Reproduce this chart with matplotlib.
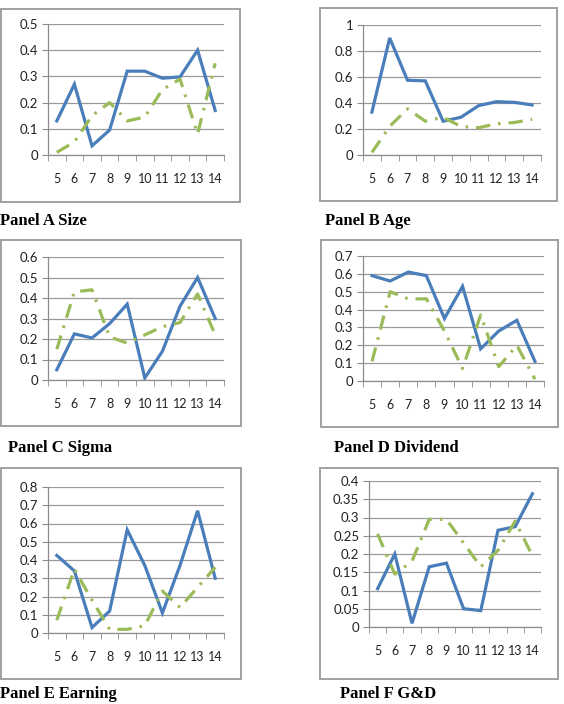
import matplotlib
matplotlib.use('Agg')
import matplotlib.pyplot as plt
from matplotlib.patches import Rectangle
import numpy as np

years = [5, 6, 7, 8, 9, 10, 11, 12, 13, 14]

size_blue = [0.13, 0.27, 0.035, 0.095, 0.32, 0.32, 0.293, 0.298, 0.40, 0.17]
size_green = [0.01, 0.05, 0.15, 0.20, 0.13, 0.145, 0.25, 0.29, 0.08, 0.35]

age_blue = [0.33, 0.90, 0.575, 0.57, 0.26, 0.29, 0.38, 0.41, 0.405, 0.385]
age_green = [0.02, 0.22, 0.355, 0.26, 0.29, 0.22, 0.21, 0.24, 0.25, 0.275]

sigma_blue = [0.05, 0.225, 0.205, 0.275, 0.37, 0.01, 0.14, 0.36, 0.50, 0.30]
sigma_green = [0.15, 0.43, 0.44, 0.21, 0.18, 0.22, 0.26, 0.28, 0.42, 0.22]

div_blue = [0.59, 0.56, 0.61, 0.59, 0.35, 0.53, 0.18, 0.28, 0.34, 0.11]
div_green = [0.11, 0.50, 0.46, 0.46, 0.28, 0.07, 0.37, 0.08, 0.20, 0.01]

earn_blue = [0.425, 0.34, 0.03, 0.12, 0.565, 0.37, 0.11, 0.37, 0.67, 0.30]
earn_green = [0.07, 0.35, 0.18, 0.02, 0.02, 0.04, 0.23, 0.14, 0.25, 0.36]

gd_blue = [0.105, 0.20, 0.01, 0.165, 0.175, 0.05, 0.045, 0.265, 0.275, 0.365]
gd_green = [0.255, 0.145, 0.18, 0.295, 0.295, 0.23, 0.165, 0.21, 0.29, 0.195]

W, H = 564, 704
fig = plt.figure(figsize=(W / 100, H / 100), dpi=100)

def frac(x0, y0, x1, y1):
    return [x0 / W, 1 - y1 / H, (x1 - x0) / W, (y1 - y0) / H]

# (box, plot area, ymax, ystep, label, label pos, data)
panels = [
    ((1, 9, 240, 202), (48, 24, 224, 155), 0.5, 0.1, 'Panel A Size', (0, 225), size_blue, size_green),
    ((320, 8, 557, 201), (363, 25, 541, 155), 1.0, 0.2, 'Panel B Age', (325, 225), age_blue, age_green),
    ((1, 240, 241, 426), (48, 257, 224, 380), 0.6, 0.1, 'Panel C Sigma', (8, 452), sigma_blue, sigma_green),
    ((321, 240, 558, 427), (363, 256, 544, 381), 0.7, 0.1, 'Panel D Dividend', (334, 452), div_blue, div_green),
    ((1, 468, 241, 679), (48, 487, 224, 633), 0.8, 0.1, 'Panel E Earning', (0, 698), earn_blue, earn_green),
    ((320, 468, 558, 679), (369, 481, 541, 627), 0.4, 0.05, 'Panel F G&D', (340, 698), gd_blue, gd_green),
]

for box, area, ymax, ystep, label, lpos, blue, green in panels:
    fig.patches.append(Rectangle((box[0] / W, 1 - box[3] / H), (box[2] - box[0]) / W,
                                 (box[3] - box[1]) / H, transform=fig.transFigure,
                                 fill=False, edgecolor='#a0a0a0', linewidth=1.4))
    ax = fig.add_axes(frac(*area))
    ax.plot(years, blue, color='#4a7ebb', linewidth=2.3, solid_joinstyle='miter')
    ax.plot(years, green, color='#9bbb59', linewidth=2.3, linestyle=(0, (4.5, 2.5, 0.8, 2.5)))
    ax.set_xlim(4.5, 14.5)
    ax.set_ylim(0, ymax)
    yt = np.arange(0, ymax + ystep / 2, ystep)
    ax.set_yticks(yt)
    ax.set_yticklabels(['{:g}'.format(round(v, 2)) for v in yt])
    ax.set_xticks(years)
    ax.set_xticks(np.arange(4.5, 15, 1), minor=True)
    ax.tick_params(axis='x', which='major', length=0, pad=13, labelsize=9, labelcolor='#222222')
    ax.tick_params(axis='x', which='minor', length=4, color='#8c8c8c', direction='out')
    ax.tick_params(axis='y', length=4, color='#8c8c8c', labelsize=9.5, labelcolor='#222222', pad=3)
    ax.grid(axis='y', color='#9a9a9a', linewidth=0.9)
    ax.set_axisbelow(True)
    for s in ['top', 'right']:
        ax.spines[s].set_visible(False)
    for s in ['left', 'bottom']:
        ax.spines[s].set_color('#8c8c8c')
        ax.spines[s].set_linewidth(0.9)
    for t in ax.get_xticklabels() + ax.get_yticklabels():
        t.set_family(['Lato', 'DejaVu Sans'])
    fig.text(lpos[0] / W, 1 - lpos[1] / H, label, family='Liberation Serif',
             fontweight='bold', fontsize=12, ha='left', va='baseline')

fig.savefig('out.png', dpi=100)
